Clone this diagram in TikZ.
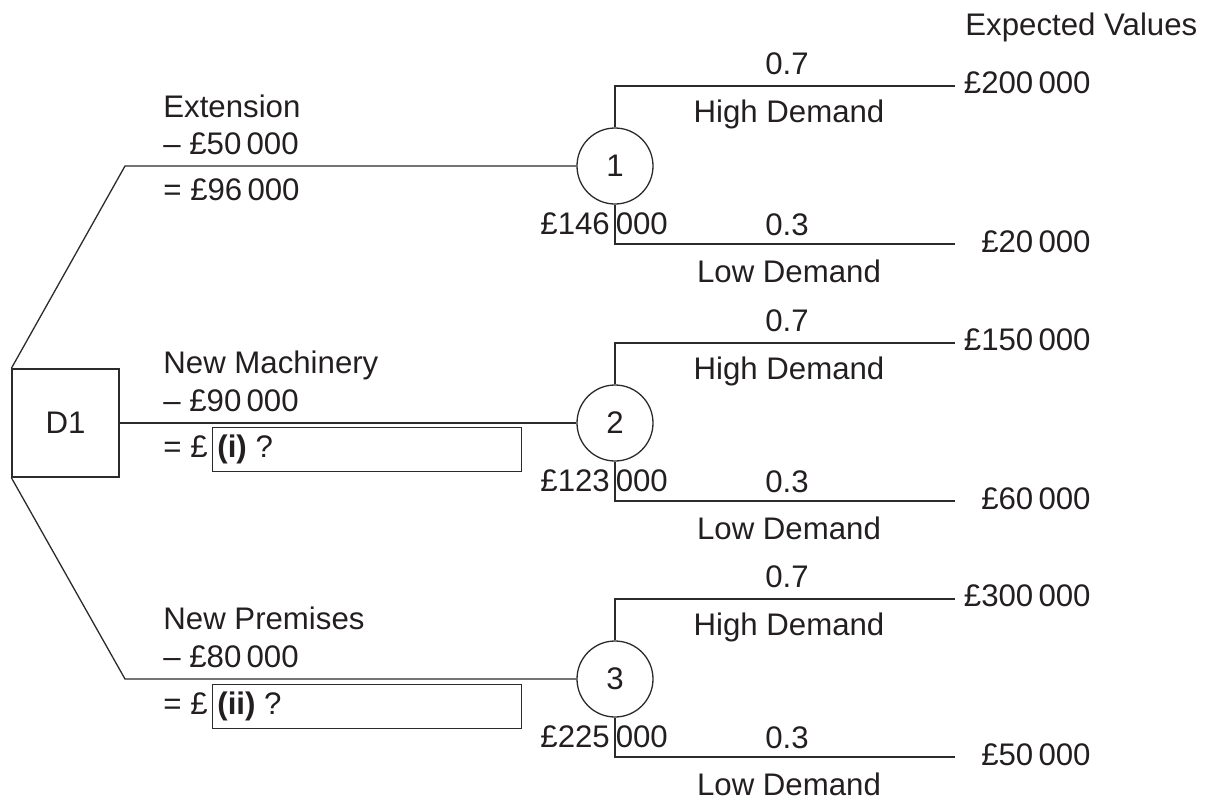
\documentclass[tikz,border=0pt]{standalone}
\usepackage{fontspec}
\setmainfont{Liberation Sans}
\definecolor{txt}{HTML}{231F20}
\definecolor{ln}{HTML}{2B2B2B}
\begin{document}
\begin{tikzpicture}[x=0.5pt,y=-0.5pt,
  every node/.style={font=\fontsize{15.6}{18}\selectfont, text=txt, inner sep=0pt},
  conn/.style={draw=ln, line width=0.65pt},
  dbox/.style={draw=ln, line width=0.65pt, rectangle, minimum width=53.5pt, minimum height=54pt},
  chance/.style={draw=ln, line width=0.65pt, circle, minimum size=38pt},
  ansbox/.style={draw=ln, line width=0.65pt, rectangle, minimum width=154.5pt, minimum height=22pt},
  lbl/.style={anchor=base west},
  ctr/.style={anchor=base},
  rgt/.style={anchor=base east}]
\useasboundingbox (0,0) rectangle (1212,799);

% decision node
\node[dbox] (d1) at (65.5,423) {D1};

% chance nodes
\node[chance] (c1) at (615,166) {1};
\node[chance] (c2) at (615,423) {2};
\node[chance] (c3) at (615,679) {3};

% decision branches
\coordinate (k1) at (125,166);
\coordinate (k3) at (125,679);
\draw[conn] (d1.north west) -- (k1) -- (c1.west);
\draw[conn] (d1.east) -- (c2.west);
\draw[conn] (d1.south west) -- (k3) -- (c3.west);

% chance branches
\coordinate (h1) at (955,86);
\coordinate (l1) at (955,244);
\coordinate (h2) at (955,343);
\coordinate (l2) at (955,501);
\coordinate (h3) at (955,599);
\coordinate (l3) at (955,757);
\draw[conn] (c1.north) |- (h1);
\draw[conn] (c1.south) |- (l1);
\draw[conn] (c2.north) |- (h2);
\draw[conn] (c2.south) |- (l2);
\draw[conn] (c3.north) |- (h3);
\draw[conn] (c3.south) |- (l3);

% header
\node[lbl] (ev) at (965,35) {Expected Values};

% probabilities and outcomes
\foreach \n/\h/\l in {p1/86/244, p2/343/501, p3/599/757}{
  \node[ctr] (\n a) at (787,\h-12) {0.7};
  \node[ctr] (\n b) at (789,\h+36) {High Demand};
  \node[ctr] (\n c) at (787,\l-9) {0.3};
  \node[ctr] (\n d) at (789,\l+38) {Low Demand};
}

% expected values
\node[rgt] (v1) at (1091,93) {£200\,000};
\node[rgt] (v2) at (1091,252) {£20\,000};
\node[rgt] (v3) at (1091,350) {£150\,000};
\node[rgt] (v4) at (1091,509) {£60\,000};
\node[rgt] (v5) at (1091,606) {£300\,000};
\node[rgt] (v6) at (1091,765) {£50\,000};

% node values
\node[lbl] (e1) at (540,234) {£146\hspace{3pt}000};
\node[lbl] (e2) at (540,491) {£123\hspace{3pt}000};
\node[lbl] (e3) at (540,747) {£225\hspace{3pt}000};

% option labels
\node[lbl] (o1a) at (163,117) {Extension};
\node[lbl] (o1b) at (163,154) {– £50\,000};
\node[lbl] (o1c) at (163,200) {= £96\,000};

\node[lbl] (o2a) at (163,373) {New Machinery};
\node[lbl] (o2b) at (163,411) {– £90\,000};
\node[lbl] (o2c) at (163,457) {= £};
\node[ansbox, anchor=north west] (b2) at (212,427) {};
\node[lbl] (q2) at (217,457) {\textbf{(i)} ?};

\node[lbl] (o3a) at (163,629) {New Premises};
\node[lbl] (o3b) at (163,667) {– £80\,000};
\node[lbl] (o3c) at (163,714) {= £};
\node[ansbox, anchor=north west] (b3) at (212,684) {};
\node[lbl] (q3) at (217,714) {\textbf{(ii)} ?};
\end{tikzpicture}
\end{document}
